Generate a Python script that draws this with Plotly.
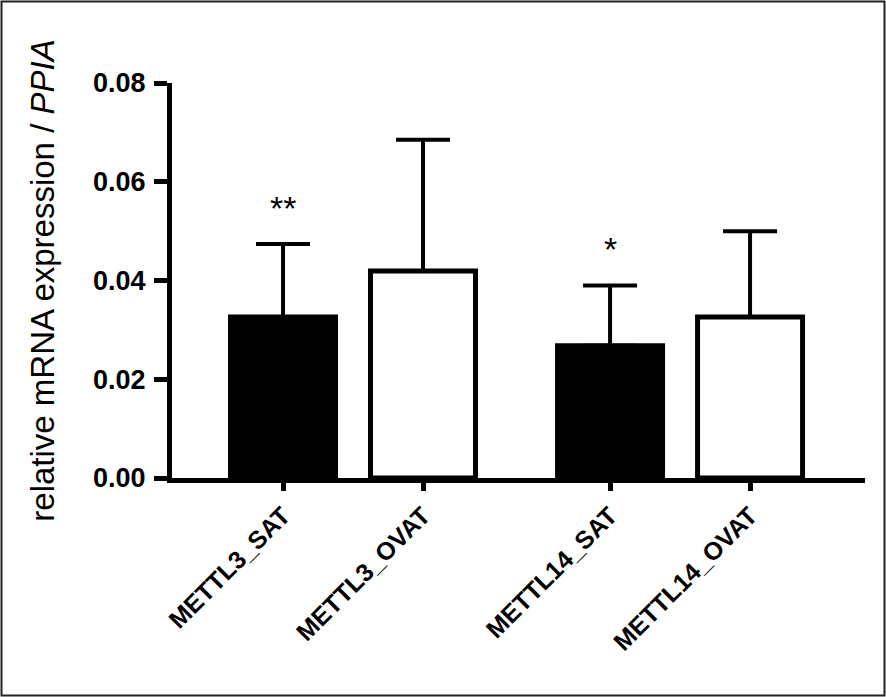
import plotly.graph_objects as go

# ---- data ----
categories = ["METTL3_SAT", "METTL3_OVAT", "METTL14_SAT", "METTL14_OVAT"]
mean_expr = [0.0326, 0.0419, 0.0268, 0.0326]
err_up = [0.0148, 0.0266, 0.0122, 0.0174]
significance = ["**", "", "*", ""]
y_ticks = [0.00, 0.02, 0.04, 0.06, 0.08]
y_ticklabels = ["0.00", "0.02", "0.04", "0.06", "0.08"]

# ---- layout / style ----
bar_fill = ["black", "white", "black", "white"]
x_pos = [0.0, 1.0, 2.336, 3.336]          # grouped positions (gap between genes)
W, H = 886, 697
ML, MR, MT, MB = 172, 21, 83, 219
FONT = "Liberation Sans, Arial, Helvetica, sans-serif"

fig = go.Figure()
fig.add_trace(go.Bar(
    x=x_pos, y=mean_expr, width=0.75,
    marker=dict(color=bar_fill, line=dict(color="black", width=5)),
    error_y=dict(type="data", array=err_up, arrayminus=[0] * len(err_up),
                 symmetric=False, color="black", thickness=4, width=27),
    showlegend=False, hoverinfo="skip",
))

annotations = []
for xp, m, e, s in zip(x_pos, mean_expr, err_up, significance):
    if s:
        annotations.append(dict(
            x=xp, y=m + e, xref="x", yref="y", text=s, showarrow=False,
            yanchor="bottom", yshift=15,
            font=dict(family=FONT, size=34, color="black")))

# frame around the whole image
pw, ph = W - ML - MR, H - MT - MB
def px_x(p):
    return (p - ML) / pw
def px_y(p):
    return (H - MB - p) / ph

fig.update_layout(
    width=W, height=H,
    margin=dict(l=ML, r=MR, t=MT, b=MB),
    paper_bgcolor="white", plot_bgcolor="white",
    font=dict(family=FONT, color="black"),
    bargap=0,
    annotations=annotations,
    shapes=[dict(type="rect", xref="paper", yref="paper",
                 x0=px_x(1.5), x1=px_x(884.5), y0=px_y(695.5), y1=px_y(1.5),
                 line=dict(color="#222", width=2), layer="above")],
    xaxis=dict(
        range=[-0.793, 4.157], showgrid=False, zeroline=False,
        showline=True, linecolor="black", linewidth=5,
        tickmode="array", tickvals=x_pos, ticktext=categories,
        ticks="outside", ticklen=8, tickwidth=5, tickcolor="black",
        tickangle=-45,
        tickfont=dict(family=FONT, size=25, color="black", weight="bold"),
    ),
    yaxis=dict(
        range=[0, 0.08], showgrid=False, zeroline=False,
        showline=True, linecolor="black", linewidth=5,
        tickmode="array", tickvals=y_ticks, ticktext=y_ticklabels,
        ticks="outside", ticklen=13, tickwidth=5, tickcolor="black",
        ticklabelstandoff=3,
        tickfont=dict(family=FONT, size=27, color="black", weight="bold"),
        title=dict(text="relative mRNA expression / <i>PPIA</i>",
                   font=dict(family=FONT, size=33, color="black"),
                   standoff=30),
    ),
)

fig.write_html("out.html",
               config={"displayModeBar": False, "staticPlot": True},
               post_script="document.body.style.margin='0';"
                           "document.body.style.overflow='hidden';")
